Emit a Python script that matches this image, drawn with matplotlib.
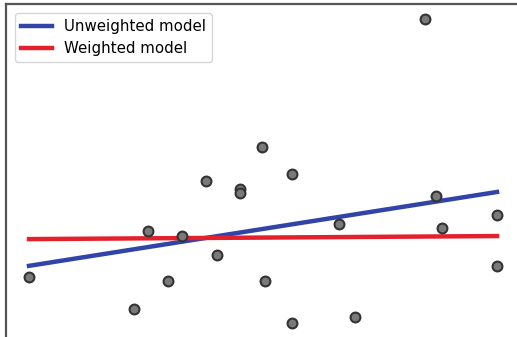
import numpy as np
import matplotlib.pyplot as plt

# observed points
x_pts = [0.0, 2.24, 2.54, 2.97, 3.27, 3.78, 4.02, 4.51, 4.51, 4.98,
         5.04, 5.62, 5.62, 6.62, 6.97, 8.46, 8.70, 8.82, 10.0, 10.0]
y_pts = [1.51, 0.46, 3.03, 1.38, 2.86, 4.67, 2.24, 4.41, 4.28, 5.79,
         1.38, 4.90, 0.0, 3.26, 0.20, 10.0, 4.18, 3.13, 3.55, 1.88]

# fitted lines (end points)
fit_x = [0.0, 10.0]
unweighted_y = [1.88, 4.31]
weighted_y = [2.76, 2.86]

fig = plt.figure(figsize=(5.17, 3.37), dpi=100)
ax = fig.add_axes([5.6 / 517, -1.2 / 337, 522 / 517, 334.4 / 337])

ax.scatter(x_pts, y_pts, s=50, c='#7a7a7a', edgecolors='#333333', linewidths=1.5, zorder=3)
ax.plot(fit_x, unweighted_y, color='#3344a8', lw=3.2, label='Unweighted model', zorder=2)
ax.plot(fit_x, weighted_y, color='#e3202c', lw=3.2, label='Weighted model', zorder=2)

ax.set_xlim(-0.5, -0.5 + 522 / 46.8)
ax.set_xticks([])
ax.set_yticks([])
for sp in ax.spines.values():
    sp.set_color('#555555')
    sp.set_linewidth(1.6)
# picture is cropped: right and bottom frame fall outside
ax.spines['right'].set_visible(False)
ax.spines['bottom'].set_visible(False)

ax.legend(loc='upper left', fontsize=10.8, handlelength=2.1, borderaxespad=0.6)

fig.savefig('out.png', dpi=100)
